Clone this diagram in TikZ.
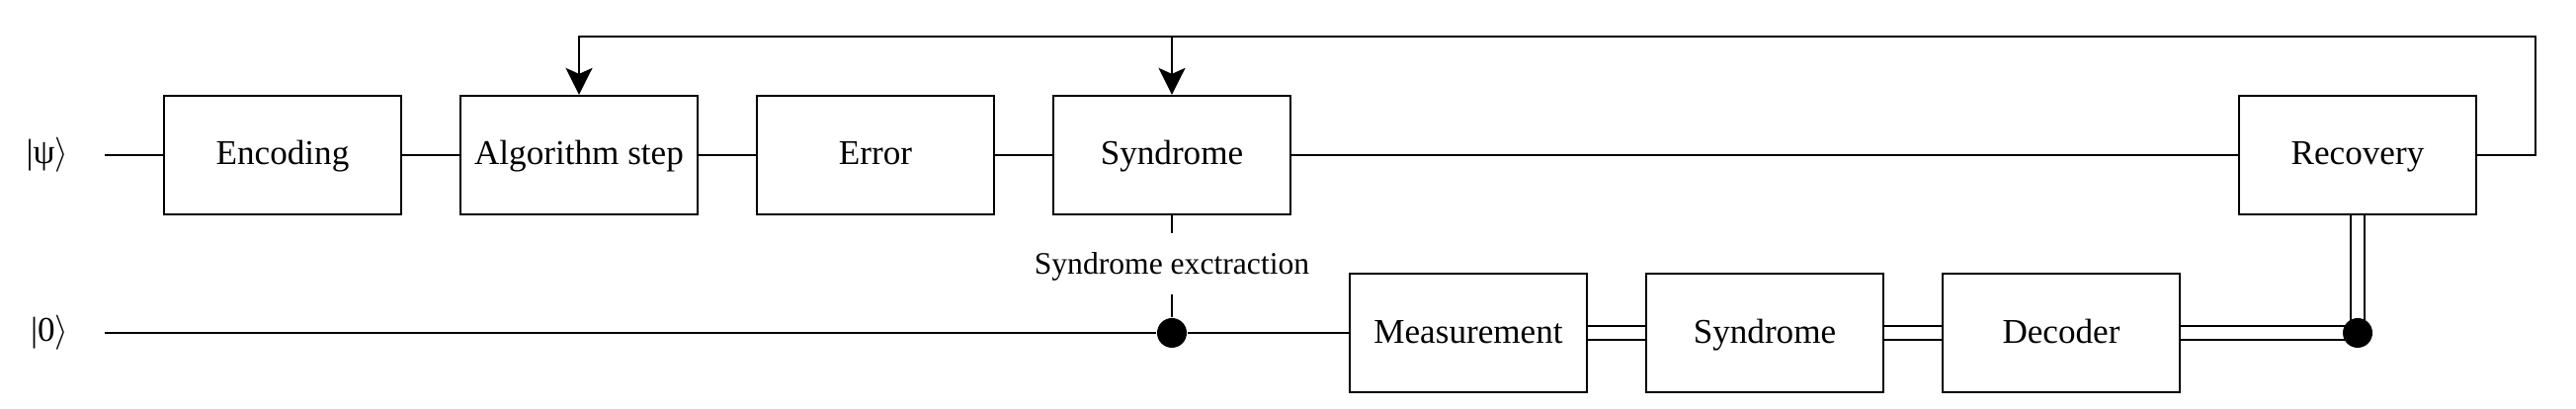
\documentclass[tikz,border=0pt]{standalone}
\usepackage{fontspec}
\setmainfont{Liberation Serif}
\usepackage{tikz}
\usetikzlibrary{arrows.meta,positioning}
\tikzset{
  block/.style={
    rectangle,
    draw=black,
    fill=white,
    line width=0.65pt,
    minimum width=24mm,
    minimum height=12mm,
    text height=0.8em,
    text depth=0.23em,
    align=center,
    font=\normalsize
  },
  ketlabel/.style={
    inner sep=0pt,
    font=\normalsize
  },
  tag/.style={
    inner sep=1.2mm,
    text height=0.8em,
    text depth=0.23em,
    font=\small
  },
  wire/.style={
    line width=0.65pt,
    draw=black
  },
  classical/.style={
    line width=0.65pt,
    draw=black,
    double=white,
    double distance=1.2mm
  },
  arrow/.style={
    -{Stealth[length=2.7mm,width=2.7mm,inset=0.6mm]},
    line width=0.65pt,
    draw=black
  },
  junction/.style={
    circle,
    fill=black,
    inner sep=0pt,
    minimum size=3mm
  }
}

\begin{document}
\begin{tikzpicture}
  \useasboundingbox (-2.86,1.57) rectangle (23.21,-2.57);
  % wire ends
  \coordinate (psiW) at (-1.8,0);
  \coordinate (zeroW) at (-1.8,-1.8);
  \node[ketlabel,left=3.6mm of psiW] (psi) {|ψ$\rangle$};
  \node[ketlabel,left=3.6mm of zeroW] (zero) {|0$\rangle$};
  % data qubit row
  \node[block] (enc) at (0,0) {Encoding};
  \node[block] (alg) at (3,0) {Algorithm step};
  \node[block] (err) at (6,0) {Error};
  \node[block] (syn) at (9,0) {Syndrome};
  \node[block] (rec) at (21,0) {Recovery};
  % ancilla row
  \node[block] (meas) at (12,-1.8) {Measurement};
  \node[block] (synB) at (15,-1.8) {Syndrome};
  \node[block] (dec) at (18,-1.8) {Decoder};
  \node[tag] (extr) at (9,-1.1) {Syndrome exctraction};
  \node[junction] (sdot) at (9,-1.8) {};
  % feedback corners
  \coordinate (rJoin) at (21,-1.8);
  \coordinate (loopR) at (22.8,0);
  \coordinate (loopL) at (3,1.2);
  \coordinate (loopS) at (9,1.2);

  \draw[wire] (psiW) -- (enc) -- (alg) -- (err) -- (syn) -- (rec);
  \draw[wire] (zeroW) -- (sdot) -- (meas);
  \draw[wire] (syn) -- (extr);
  \draw[wire] (extr) -- (sdot);
  \draw[classical] (meas) -- (synB);
  \draw[classical] (synB) -- (dec);
  \draw[classical] (dec.east) -- (rJoin);
  \draw[classical] (rec.south) -- (rJoin);
  \node[junction] (rdot) at (rJoin) {};
  \draw[arrow] (rec.east) -- (loopR) |- (loopL) -- (alg.north);
  \draw[arrow] (loopS) -- (syn.north);
\end{tikzpicture}
\end{document}
